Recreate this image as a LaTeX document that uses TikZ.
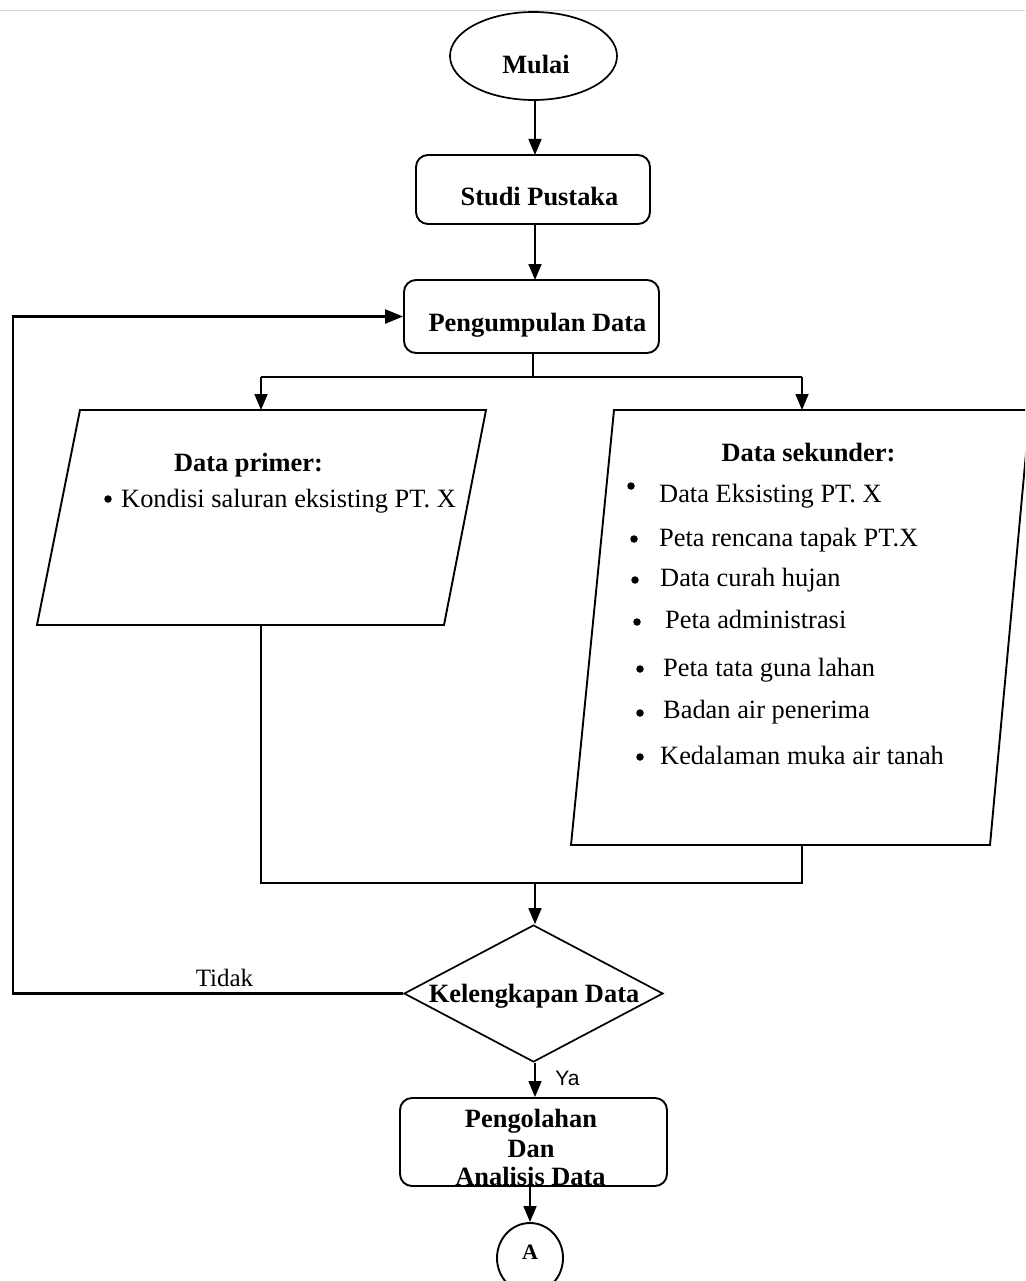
\documentclass[tikz,border=0pt]{standalone}
\usepackage{fontspec}
\setmainfont{Liberation Serif}
\newfontfamily\yafont{Liberation Sans}
\usetikzlibrary{arrows.meta,shapes.geometric}
\begin{document}
\begin{tikzpicture}[x=1pt,y=-1pt,
  font=\fontsize{26.4}{30}\selectfont,
  rbox/.style={draw, rounded corners=12pt, line width=1.9pt, inner sep=0pt},
  conn/.style={line width=1.6pt, -{Triangle[length=16pt,width=13pt]}},
  plain/.style={line width=1.6pt},
  fb/.style={line width=2.4pt},
  para/.style={draw, line width=1.9pt, line join=miter},
  lbl/.style={anchor=base, inner sep=0pt},
  item/.style={anchor=base west, inner sep=0pt},
  dot/.style={circle, fill=black, inner sep=0pt, minimum size=7.5pt}
]
\useasboundingbox (0,0) rectangle (1025,1281);
\clip (0,0) rectangle (1025,1281);
\draw[black!18, line width=1.2pt] (0,10.5) -- (1025,10.5);

% start
\node[draw, ellipse, line width=1.7pt, minimum width=167pt, minimum height=88pt, inner sep=0pt] (mulai) at (533.5,56) {};
\node[lbl, font=\fontsize{26.4}{30}\selectfont\bfseries] (mulaiT) at (536,74) {Mulai};

% studi pustaka
\node[rbox, minimum width=234pt, minimum height=69pt] (studi) at (533,189.5) {};
\node[lbl, font=\fontsize{26.4}{30}\selectfont\bfseries] (studiT) at (539.5,206) {Studi Pustaka};

% pengumpulan data
\node[rbox, minimum width=255pt, minimum height=73pt] (peng) at (531.5,316.5) {};
\node[lbl, font=\fontsize{26.4}{30}\selectfont\bfseries] (pengT) at (537.5,331) {Pengumpulan Data};

\draw[conn] (mulai.south -| 535,0) -- (535,155);
\draw[conn] (535,224) -- (535,280);

% split
\coordinate (sC) at (533,377);
\coordinate (sL) at (261,377);
\coordinate (sR) at (802,377);
\coordinate (pTop) at (261,410);
\coordinate (qTop) at (802,410);
\draw[plain] (peng.south -| sC) -- (sC);
\draw[plain] (sL) -- (sR);
\draw[conn] (sL) -- (pTop);
\draw[conn] (sR) -- (qTop);

% data primer
\draw[para] (80,410) -- (486,410) -- (444,625) -- (37,625) -- cycle;
\node[lbl, font=\fontsize{26.4}{30}\selectfont\bfseries] (primT) at (248.5,471) {Data primer:};
\node[dot] (pb1) at (108,499) {};
\node[item] (pi1) at (121,507) {Kondisi saluran eksisting PT. X};

% data sekunder
\draw[para] (614,410) -- (1030,410) -- (990,845) -- (571,845) -- cycle;
\node[lbl, font=\fontsize{26.4}{30}\selectfont\bfseries] (sekT) at (808.5,461) {Data sekunder:};
\node[dot] (b1) at (631,486) {};
\node[item] (i1) at (659,502) {Data Eksisting PT. X};
\node[dot] (b2) at (634,539) {};
\node[item] (i2) at (659,546) {Peta rencana tapak PT.X};
\node[dot] (b3) at (635,580) {};
\node[item] (i3) at (660,586) {Data curah hujan};
\node[dot] (b4) at (637,622) {};
\node[item] (i4) at (665,628) {Peta administrasi};
\node[dot] (b5) at (640,669) {};
\node[item] (i5) at (663,676) {Peta tata guna lahan};
\node[dot] (b6) at (640,713) {};
\node[item] (i6) at (663,718) {Badan air penerima};
\node[dot] (b7) at (640,757) {};
\node[item] (i7) at (660,764) {Kedalaman muka air tanah};

% merge
\coordinate (mL) at (261,625);
\coordinate (mR) at (802,845);
\coordinate (mC) at (535,883);
\draw[plain] (mL) -- (mL |- mC) -- (mR |- mC) -- (mR);

% decision
\node[draw, diamond, line width=1.7pt, minimum width=259pt, minimum height=137pt, inner sep=0pt] (dec) at (533.5,993.5) {};
\node[lbl, font=\fontsize{26.4}{30}\selectfont\bfseries] (decT) at (534,1002) {Kelengkapan Data};
\draw[conn] (mC) -- (dec.north -| mC);

% feedback
\coordinate (fbx) at (13,0);
\draw[fb, -{Triangle[length=18pt,width=14pt]}] (dec.west) -- (dec.west -| fbx) -- (fbx |- peng.west) -- (peng.west);
\node[lbl, font=\fontsize{25}{30}\selectfont] (tidak) at (224.5,986.5) {Tidak};

% pengolahan
\node[rbox, minimum width=267pt, minimum height=88pt] (olah) at (533.5,1142) {};
\node[lbl, font=\fontsize{26.4}{30}\selectfont\bfseries] (olah1) at (531,1127) {Pengolahan};
\node[lbl, font=\fontsize{26.4}{30}\selectfont\bfseries] (olah2) at (531,1157) {Dan};
\node[lbl, font=\fontsize{26.4}{30}\selectfont\bfseries] (olah3) at (530.5,1185) {Analisis Data};
\draw[conn] (dec.south -| 535,0) -- (olah.north -| 535,0);
\node[lbl, font=\yafont\fontsize{21}{24}\selectfont] (ya) at (567.5,1085.5) {Ya};

% connector A
\node[draw, ellipse, line width=1.9pt, minimum width=66pt, minimum height=70pt, inner sep=0pt] (conA) at (530,1258) {};
\node[lbl, font=\fontsize{22}{26}\selectfont\bfseries] (conAT) at (530,1259) {A};
\draw[conn] (olah.south -| conA.north) -- (conA.north);
\end{tikzpicture}
\end{document}
